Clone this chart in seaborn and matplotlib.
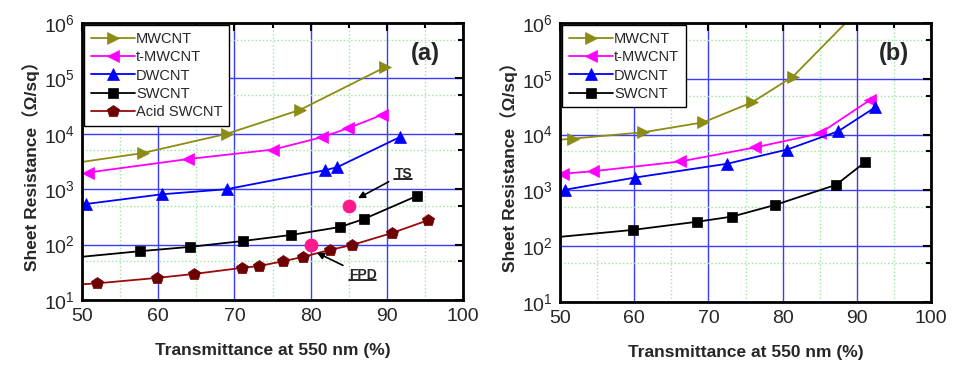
import numpy as np
import seaborn as sns
import matplotlib.pyplot as plt
import matplotlib.text as mtext
from matplotlib.ticker import FixedLocator, NullFormatter
from matplotlib.lines import Line2D

# panel (a)
a_mw_x = [47.0, 58.0, 69.0, 78.6, 89.8]
a_mw_y = [2.7e3, 4.5e3, 1.0e4, 2.7e4, 1.6e5]
a_tmw_x = [50.8, 63.9, 75.1, 81.5, 84.9, 89.4]
a_tmw_y = [2.0e3, 3.5e3, 5.2e3, 8.7e3, 1.26e4, 2.2e4]
a_dw_x = [50.5, 60.5, 69.0, 81.9, 83.5, 91.7]
a_dw_y = [540, 810, 1000, 2.2e3, 2.5e3, 8.7e3]
a_sw_x = [47.0, 57.6, 64.2, 71.1, 77.4, 83.9, 87.0, 94.0]
a_sw_y = [55, 76, 91, 116, 149, 208, 290, 760]
a_acid_x = [47.0, 52.0, 59.8, 64.7, 71.0, 73.2, 76.4, 79.0, 82.5, 85.4, 90.7, 95.4]
a_acid_y = [18, 20, 25, 29.5, 38, 41, 50, 60, 80, 98, 162, 275]
ref_x = [85.0, 80.0]
ref_y = [500, 100]
ref_names = ['TS', 'FPD']

# panel (b)
b_mw_x = [47.0, 51.8, 61.2, 69.3, 75.9, 81.4, 90.0]
b_mw_y = [7.5e3, 8.5e3, 1.1e4, 1.66e4, 3.8e4, 1.1e5, 1.6e6]
b_tmw_x = [50.4, 54.4, 66.2, 76.3, 85.0, 91.8]
b_tmw_y = [2.0e3, 2.2e3, 3.3e3, 5.9e3, 1.05e4, 4.2e4]
b_dw_x = [50.7, 60.1, 72.5, 80.6, 87.5, 92.5]
b_dw_y = [1.03e3, 1.7e3, 3.0e3, 5.4e3, 1.15e4, 3.1e4]
b_sw_x = [47.0, 59.8, 68.5, 73.2, 79.0, 87.2, 91.1]
b_sw_y = [135, 196, 275, 340, 550, 1.26e3, 3.2e3]

sns.set_style('white')
plt.rcParams['font.family'] = ['Liberation Sans', 'Noto Sans CJK SC', 'DejaVu Sans']
plt.rcParams['mathtext.default'] = 'regular'

fig = plt.figure(figsize=(9.55, 3.67), dpi=100)
ax1 = fig.add_axes([0.0859, 0.1826, 0.3989, 0.7547])
ax2 = fig.add_axes([0.5864, 0.1770, 0.3885, 0.7603])

styles = {
    'MWCNT': dict(color='#8c8c14', marker='>', ms=8.5),
    't-MWCNT': dict(color='#ff00ff', marker='<', ms=8.5),
    'DWCNT': dict(color='#0000ff', marker='^', ms=8.5),
    'SWCNT': dict(color='black', marker='s', ms=6.5),
    'Acid SWCNT': dict(color='#9a0a0a', marker='p', ms=9, face='#6e0000'),
}

def draw(ax, name, x, y):
    st = styles[name]
    face = st.get('face', st['color'])
    sns.lineplot(x=x, y=y, ax=ax, label=name, sort=False, estimator=None,
                 color=st['color'], marker=st['marker'], markersize=st['ms'],
                 markeredgecolor=face, markerfacecolor=face,
                 markeredgewidth=0.5, linewidth=1.3)

draw(ax1, 'MWCNT', a_mw_x, a_mw_y)
draw(ax1, 't-MWCNT', a_tmw_x, a_tmw_y)
draw(ax1, 'DWCNT', a_dw_x, a_dw_y)
draw(ax1, 'SWCNT', a_sw_x, a_sw_y)
draw(ax1, 'Acid SWCNT', a_acid_x, a_acid_y)
ax1.scatter(ref_x, ref_y, s=80, color='#ff1a8c', zorder=5)

draw(ax2, 'MWCNT', b_mw_x, b_mw_y)
draw(ax2, 't-MWCNT', b_tmw_x, b_tmw_y)
draw(ax2, 'DWCNT', b_dw_x, b_dw_y)
draw(ax2, 'SWCNT', b_sw_x, b_sw_y)

# arrows to the reference points
notes = []
notes.append(ax1.annotate(ref_names[0], xy=(ref_x[0] + 0.9, ref_y[0] * 1.3),
             xytext=(91.0, 1.6e3), fontsize=10, fontweight='bold',
             arrowprops=dict(arrowstyle='-|>', color='black', lw=1.2)))
notes.append(ax1.annotate(ref_names[1], xy=(ref_x[1] + 0.5, ref_y[1] * 0.75),
             xytext=(85.0, 24), fontsize=10, fontweight='bold',
             arrowprops=dict(arrowstyle='-|>', color='black', lw=1.2)))

for ax, tag in [(ax1, '(a)'), (ax2, '(b)')]:
    ax.set_yscale('log')
    ax.set_xlim(50, 100)
    ax.set_ylim(10, 1e6)
    ax.set_xticks([50, 60, 70, 80, 90, 100])
    ax.xaxis.set_minor_locator(FixedLocator([55, 65, 75, 85, 95]))
    ax.yaxis.set_minor_locator(FixedLocator([50, 500, 5e3, 5e4, 5e5]))
    ax.yaxis.set_minor_formatter(NullFormatter())
    ax.grid(True, which='major', color='#3c3cff', linewidth=1.0)
    ax.grid(True, which='minor', color='#9be89b', linestyle=':', linewidth=1.0)
    ax.set_axisbelow(True)
    ax.tick_params(which='both', direction='in', top=True, right=True,
                   labelsize=14, width=1.5, color='black')
    ax.tick_params(which='major', length=6)
    ax.tick_params(which='minor', length=3.5)
    ax.tick_params(axis='x', which='major', pad=6)
    ax.tick_params(axis='y', which='major', pad=5)
    for s in ax.spines.values():
        s.set_linewidth(2)
        s.set_color('black')
    ax.set_xlabel('Transmittance at 550 nm (%)', fontsize=12.5,
                  fontweight='bold', labelpad=13)
    ax.set_ylabel('Sheet Resistance（Ω/sq）', fontsize=12.5,
                  fontweight='bold', labelpad=3)
    ax.text(0.94, 0.89, tag, transform=ax.transAxes, fontsize=17,
            fontweight='bold', ha='right', va='center')
    leg = ax.legend(loc='upper left', fontsize=10.5, frameon=True, fancybox=False,
                    edgecolor='black', framealpha=1, borderaxespad=0.15,
                    handlelength=3.0, handletextpad=0.1, labelspacing=0.3,
                    borderpad=0.45)
    leg.get_frame().set_linewidth(1.0)

# underline the TS / FPD labels
fig.canvas.draw()
inv = fig.transFigure.inverted()
for t in notes:
    bb = mtext.Text.get_window_extent(t).transformed(inv)
    fig.add_artist(Line2D([bb.x0, bb.x1], [bb.y0 + 0.004, bb.y0 + 0.004],
                          color='black', lw=1.2))

fig.savefig('out.png', dpi=100)
